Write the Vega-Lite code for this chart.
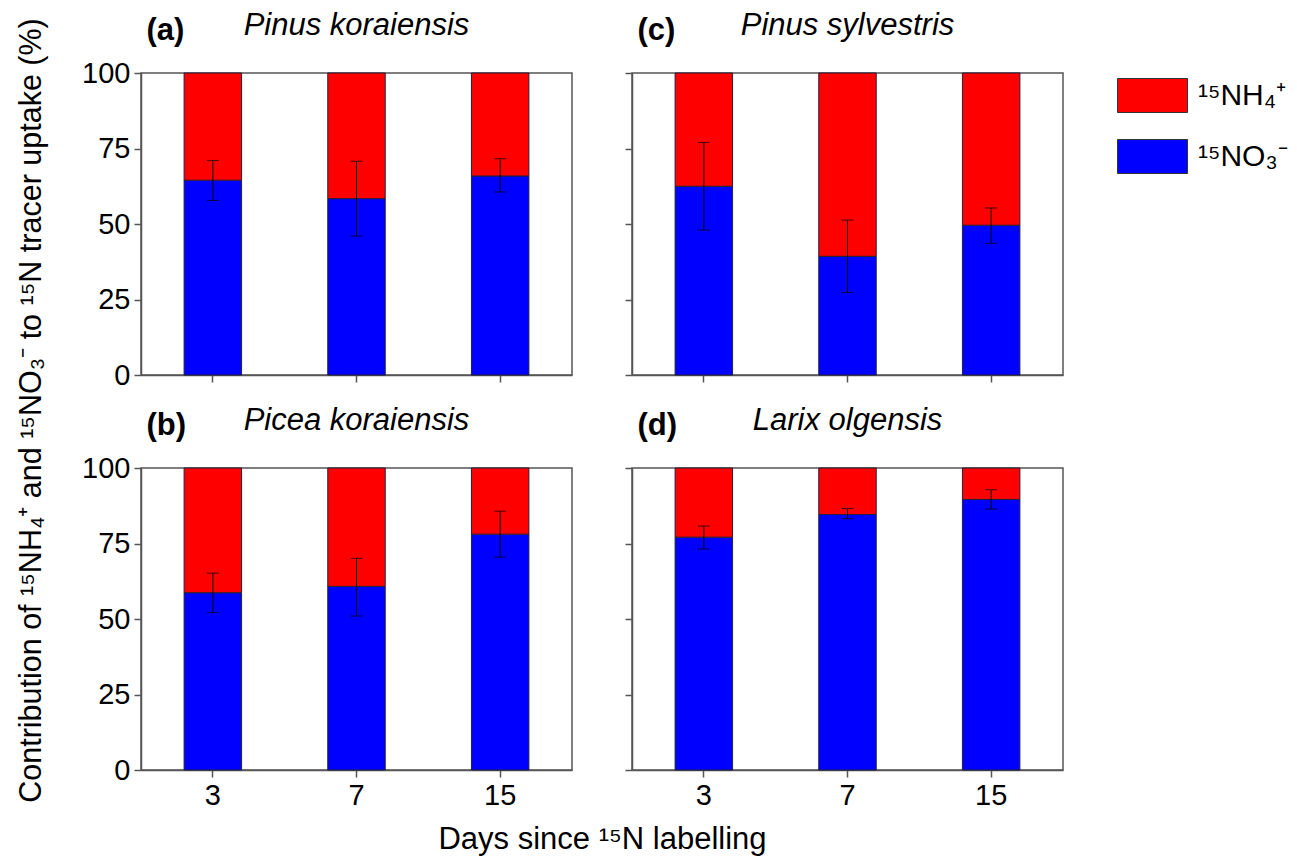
{
  "$schema": "https://vega.github.io/schema/vega-lite/v6.json",
  "padding": {"left": 15, "top": 9, "right": 5, "bottom": 5},
  "background": "white",
  "datasets": {
    "bars": [
      {"panel": "a", "day": 3, "ion": "¹⁵NO₃⁻", "value": 64.5},
      {"panel": "a", "day": 3, "ion": "¹⁵NH₄⁺", "value": 35.5},
      {"panel": "a", "day": 7, "ion": "¹⁵NO₃⁻", "value": 58.4},
      {"panel": "a", "day": 7, "ion": "¹⁵NH₄⁺", "value": 41.6},
      {"panel": "a", "day": 15, "ion": "¹⁵NO₃⁻", "value": 65.9},
      {"panel": "a", "day": 15, "ion": "¹⁵NH₄⁺", "value": 34.1},
      {"panel": "b", "day": 3, "ion": "¹⁵NO₃⁻", "value": 58.7},
      {"panel": "b", "day": 3, "ion": "¹⁵NH₄⁺", "value": 41.3},
      {"panel": "b", "day": 7, "ion": "¹⁵NO₃⁻", "value": 60.8},
      {"panel": "b", "day": 7, "ion": "¹⁵NH₄⁺", "value": 39.2},
      {"panel": "b", "day": 15, "ion": "¹⁵NO₃⁻", "value": 78.1},
      {"panel": "b", "day": 15, "ion": "¹⁵NH₄⁺", "value": 21.9},
      {"panel": "c", "day": 3, "ion": "¹⁵NO₃⁻", "value": 62.5},
      {"panel": "c", "day": 3, "ion": "¹⁵NH₄⁺", "value": 37.5},
      {"panel": "c", "day": 7, "ion": "¹⁵NO₃⁻", "value": 39.3},
      {"panel": "c", "day": 7, "ion": "¹⁵NH₄⁺", "value": 60.7},
      {"panel": "c", "day": 15, "ion": "¹⁵NO₃⁻", "value": 49.6},
      {"panel": "c", "day": 15, "ion": "¹⁵NH₄⁺", "value": 50.4},
      {"panel": "d", "day": 3, "ion": "¹⁵NO₃⁻", "value": 77.1},
      {"panel": "d", "day": 3, "ion": "¹⁵NH₄⁺", "value": 22.9},
      {"panel": "d", "day": 7, "ion": "¹⁵NO₃⁻", "value": 84.6},
      {"panel": "d", "day": 7, "ion": "¹⁵NH₄⁺", "value": 15.4},
      {"panel": "d", "day": 15, "ion": "¹⁵NO₃⁻", "value": 89.6},
      {"panel": "d", "day": 15, "ion": "¹⁵NH₄⁺", "value": 10.4}
    ],
    "errs": [
      {"panel": "a", "day": 3, "lo": 57.8, "hi": 71.0},
      {"panel": "a", "day": 7, "lo": 46.0, "hi": 70.8},
      {"panel": "a", "day": 15, "lo": 60.6, "hi": 71.6},
      {"panel": "b", "day": 3, "lo": 52.1, "hi": 65.2},
      {"panel": "b", "day": 7, "lo": 51.0, "hi": 70.1},
      {"panel": "b", "day": 15, "lo": 70.5, "hi": 85.7},
      {"panel": "c", "day": 3, "lo": 48.0, "hi": 77.0},
      {"panel": "c", "day": 7, "lo": 27.3, "hi": 51.3},
      {"panel": "c", "day": 15, "lo": 43.6, "hi": 55.3},
      {"panel": "d", "day": 3, "lo": 73.2, "hi": 80.8},
      {"panel": "d", "day": 7, "lo": 83.2, "hi": 86.6},
      {"panel": "d", "day": 15, "lo": 86.4, "hi": 92.8}
    ]
  },
  "columns": 2,
  "spacing": {"row": 93, "column": 60},
  "bounds": "flush",
  "concat": [
    {
      "width": 431, "height": 302,
      "title": {"text": "Pinus koraiensis"},
      "layer": [
        {"data": {"name": "bars"}, "transform": [{"filter": "datum.panel == 'a'"}],
         "mark": {"type": "bar", "stroke": "#20203a", "strokeWidth": 1},
         "encoding": {
           "x": {"field": "day", "type": "ordinal", "scale": {"paddingInner": 0.6, "paddingOuter": 0.3}, "axis": {"labels": false, "title": null}},
           "y": {"field": "value", "type": "quantitative", "stack": "zero", "scale": {"domain": [0, 100], "nice": false}, "title": "Contribution of ¹⁵NH₄⁺ and ¹⁵NO₃⁻ to ¹⁵N tracer uptake (%)", "axis": {"values": [0, 25, 50, 75, 100], "titleY": 337, "titlePadding": 35, "titleFontSize": 30.5}},
           "color": {"field": "ion", "type": "nominal", "scale": {"domain": ["¹⁵NH₄⁺", "¹⁵NO₃⁻"], "range": ["#ff0000", "#0000ff"]}, "title": null},
           "order": {"field": "ion", "sort": "descending"}
         }},
        {"data": {"name": "errs"}, "transform": [{"filter": "datum.panel == 'a'"}],
         "mark": {"type": "rule", "color": "black", "strokeWidth": 1},
         "encoding": {
           "x": {"field": "day", "type": "ordinal", "axis": {"orient": "top", "labels": false, "ticks": false, "domain": false, "title": "(a)", "titleAnchor": "start", "titleAlign": "left", "titleX": 5, "titleY": -34, "titleBaseline": "alphabetic", "titleFontWeight": "bold", "titleAngle": 0}},
           "y": {"field": "lo", "type": "quantitative", "title": "Contribution of ¹⁵NH₄⁺ and ¹⁵NO₃⁻ to ¹⁵N tracer uptake (%)"},
           "y2": {"field": "hi"}
         }},
        {"data": {"name": "errs"}, "transform": [{"filter": "datum.panel == 'a'"}],
         "mark": {"type": "tick", "color": "black", "thickness": 1, "size": 12},
         "encoding": {
           "x": {"field": "day", "type": "ordinal", "axis": null},
           "y": {"field": "lo", "type": "quantitative", "title": "Contribution of ¹⁵NH₄⁺ and ¹⁵NO₃⁻ to ¹⁵N tracer uptake (%)"}
         }},
        {"data": {"name": "errs"}, "transform": [{"filter": "datum.panel == 'a'"}],
         "mark": {"type": "tick", "color": "black", "thickness": 1, "size": 12},
         "encoding": {
           "x": {"field": "day", "type": "ordinal", "axis": null},
           "y": {"field": "hi", "type": "quantitative", "title": "Contribution of ¹⁵NH₄⁺ and ¹⁵NO₃⁻ to ¹⁵N tracer uptake (%)"}
         }}
      ],
      "resolve": {"axis": {"x": "independent"}}
    },
    {
      "width": 431, "height": 302,
      "title": {"text": "Pinus sylvestris"},
      "layer": [
        {"data": {"name": "bars"}, "transform": [{"filter": "datum.panel == 'c'"}],
         "mark": {"type": "bar", "stroke": "#20203a", "strokeWidth": 1},
         "encoding": {
           "x": {"field": "day", "type": "ordinal", "scale": {"paddingInner": 0.6, "paddingOuter": 0.3}, "axis": {"labels": false, "title": null}},
           "y": {"field": "value", "type": "quantitative", "stack": "zero", "scale": {"domain": [0, 100], "nice": false}, "title": null, "axis": {"values": [0, 25, 50, 75, 100], "labels": false}},
           "color": {"field": "ion", "type": "nominal", "scale": {"domain": ["¹⁵NH₄⁺", "¹⁵NO₃⁻"], "range": ["#ff0000", "#0000ff"]}, "title": null},
           "order": {"field": "ion", "sort": "descending"}
         }},
        {"data": {"name": "errs"}, "transform": [{"filter": "datum.panel == 'c'"}],
         "mark": {"type": "rule", "color": "black", "strokeWidth": 1},
         "encoding": {
           "x": {"field": "day", "type": "ordinal", "axis": {"orient": "top", "labels": false, "ticks": false, "domain": false, "title": "(c)", "titleAnchor": "start", "titleAlign": "left", "titleX": 5, "titleY": -34, "titleBaseline": "alphabetic", "titleFontWeight": "bold", "titleAngle": 0}},
           "y": {"field": "lo", "type": "quantitative", "title": null},
           "y2": {"field": "hi"}
         }},
        {"data": {"name": "errs"}, "transform": [{"filter": "datum.panel == 'c'"}],
         "mark": {"type": "tick", "color": "black", "thickness": 1, "size": 12},
         "encoding": {
           "x": {"field": "day", "type": "ordinal", "axis": null},
           "y": {"field": "lo", "type": "quantitative", "title": null}
         }},
        {"data": {"name": "errs"}, "transform": [{"filter": "datum.panel == 'c'"}],
         "mark": {"type": "tick", "color": "black", "thickness": 1, "size": 12},
         "encoding": {
           "x": {"field": "day", "type": "ordinal", "axis": null},
           "y": {"field": "hi", "type": "quantitative", "title": null}
         }}
      ],
      "resolve": {"axis": {"x": "independent"}}
    },
    {
      "width": 431, "height": 302,
      "title": {"text": "Picea koraiensis"},
      "layer": [
        {"data": {"name": "bars"}, "transform": [{"filter": "datum.panel == 'b'"}],
         "mark": {"type": "bar", "stroke": "#20203a", "strokeWidth": 1},
         "encoding": {
           "x": {"field": "day", "type": "ordinal", "scale": {"paddingInner": 0.6, "paddingOuter": 0.3}, "axis": {"labels": true, "title": "Days since ¹⁵N labelling", "titleX": 461, "titleY": 78, "titleBaseline": "alphabetic", "titleAlign": "center", "titleAngle": 0}},
           "y": {"field": "value", "type": "quantitative", "stack": "zero", "scale": {"domain": [0, 100], "nice": false}, "title": null, "axis": {"values": [0, 25, 50, 75, 100]}},
           "color": {"field": "ion", "type": "nominal", "scale": {"domain": ["¹⁵NH₄⁺", "¹⁵NO₃⁻"], "range": ["#ff0000", "#0000ff"]}, "title": null},
           "order": {"field": "ion", "sort": "descending"}
         }},
        {"data": {"name": "errs"}, "transform": [{"filter": "datum.panel == 'b'"}],
         "mark": {"type": "rule", "color": "black", "strokeWidth": 1},
         "encoding": {
           "x": {"field": "day", "type": "ordinal", "axis": {"orient": "top", "labels": false, "ticks": false, "domain": false, "title": "(b)", "titleAnchor": "start", "titleAlign": "left", "titleX": 5, "titleY": -34, "titleBaseline": "alphabetic", "titleFontWeight": "bold", "titleAngle": 0}},
           "y": {"field": "lo", "type": "quantitative", "title": null},
           "y2": {"field": "hi"}
         }},
        {"data": {"name": "errs"}, "transform": [{"filter": "datum.panel == 'b'"}],
         "mark": {"type": "tick", "color": "black", "thickness": 1, "size": 12},
         "encoding": {
           "x": {"field": "day", "type": "ordinal", "axis": null},
           "y": {"field": "lo", "type": "quantitative", "title": null}
         }},
        {"data": {"name": "errs"}, "transform": [{"filter": "datum.panel == 'b'"}],
         "mark": {"type": "tick", "color": "black", "thickness": 1, "size": 12},
         "encoding": {
           "x": {"field": "day", "type": "ordinal", "axis": null},
           "y": {"field": "hi", "type": "quantitative", "title": null}
         }}
      ],
      "resolve": {"axis": {"x": "independent"}}
    },
    {
      "width": 431, "height": 302,
      "title": {"text": "Larix olgensis"},
      "layer": [
        {"data": {"name": "bars"}, "transform": [{"filter": "datum.panel == 'd'"}],
         "mark": {"type": "bar", "stroke": "#20203a", "strokeWidth": 1},
         "encoding": {
           "x": {"field": "day", "type": "ordinal", "scale": {"paddingInner": 0.6, "paddingOuter": 0.3}, "axis": {"labels": true, "title": null}},
           "y": {"field": "value", "type": "quantitative", "stack": "zero", "scale": {"domain": [0, 100], "nice": false}, "title": null, "axis": {"values": [0, 25, 50, 75, 100], "labels": false}},
           "color": {"field": "ion", "type": "nominal", "scale": {"domain": ["¹⁵NH₄⁺", "¹⁵NO₃⁻"], "range": ["#ff0000", "#0000ff"]}, "title": null},
           "order": {"field": "ion", "sort": "descending"}
         }},
        {"data": {"name": "errs"}, "transform": [{"filter": "datum.panel == 'd'"}],
         "mark": {"type": "rule", "color": "black", "strokeWidth": 1},
         "encoding": {
           "x": {"field": "day", "type": "ordinal", "axis": {"orient": "top", "labels": false, "ticks": false, "domain": false, "title": "(d)", "titleAnchor": "start", "titleAlign": "left", "titleX": 5, "titleY": -34, "titleBaseline": "alphabetic", "titleFontWeight": "bold", "titleAngle": 0}},
           "y": {"field": "lo", "type": "quantitative", "title": null},
           "y2": {"field": "hi"}
         }},
        {"data": {"name": "errs"}, "transform": [{"filter": "datum.panel == 'd'"}],
         "mark": {"type": "tick", "color": "black", "thickness": 1, "size": 12},
         "encoding": {
           "x": {"field": "day", "type": "ordinal", "axis": null},
           "y": {"field": "lo", "type": "quantitative", "title": null}
         }},
        {"data": {"name": "errs"}, "transform": [{"filter": "datum.panel == 'd'"}],
         "mark": {"type": "tick", "color": "black", "thickness": 1, "size": 12},
         "encoding": {
           "x": {"field": "day", "type": "ordinal", "axis": null},
           "y": {"field": "hi", "type": "quantitative", "title": null}
         }}
      ],
      "resolve": {"axis": {"x": "independent"}}
    }
  ],
  "config": {
    "font": "Liberation Sans",
    "view": {"stroke": "#555555", "strokeWidth": 1.5},
    "axis": {"labelFont": "Liberation Sans", "labelFontSize": 29, "labelColor": "#000000", "labelPadding": 4, "titleFont": "Liberation Sans", "titleFontSize": 31, "titleFontWeight": "normal", "titleColor": "#000000", "domainColor": "#555555", "domainWidth": 1.5, "tickColor": "#555555", "tickWidth": 1.5, "tickSize": 7, "grid": false, "labelAngle": 0},
    "title": {"font": "Liberation Sans", "fontSize": 31, "fontStyle": "italic", "fontWeight": "normal", "color": "#000000", "anchor": "middle", "frame": "group", "offset": -28, "baseline": "alphabetic"},
    "legend": {"orient": "none", "legendX": 976, "legendY": -13, "padding": 0, "symbolType": "M-1,-0.486H1V0.486H-1Z", "symbolSize": 4900, "symbolStrokeColor": "#333333", "symbolStrokeWidth": 1, "labelFont": "Liberation Sans", "labelFontSize": 30, "labelColor": "#000000", "labelOffset": 10, "rowPadding": 6}
  }
}
